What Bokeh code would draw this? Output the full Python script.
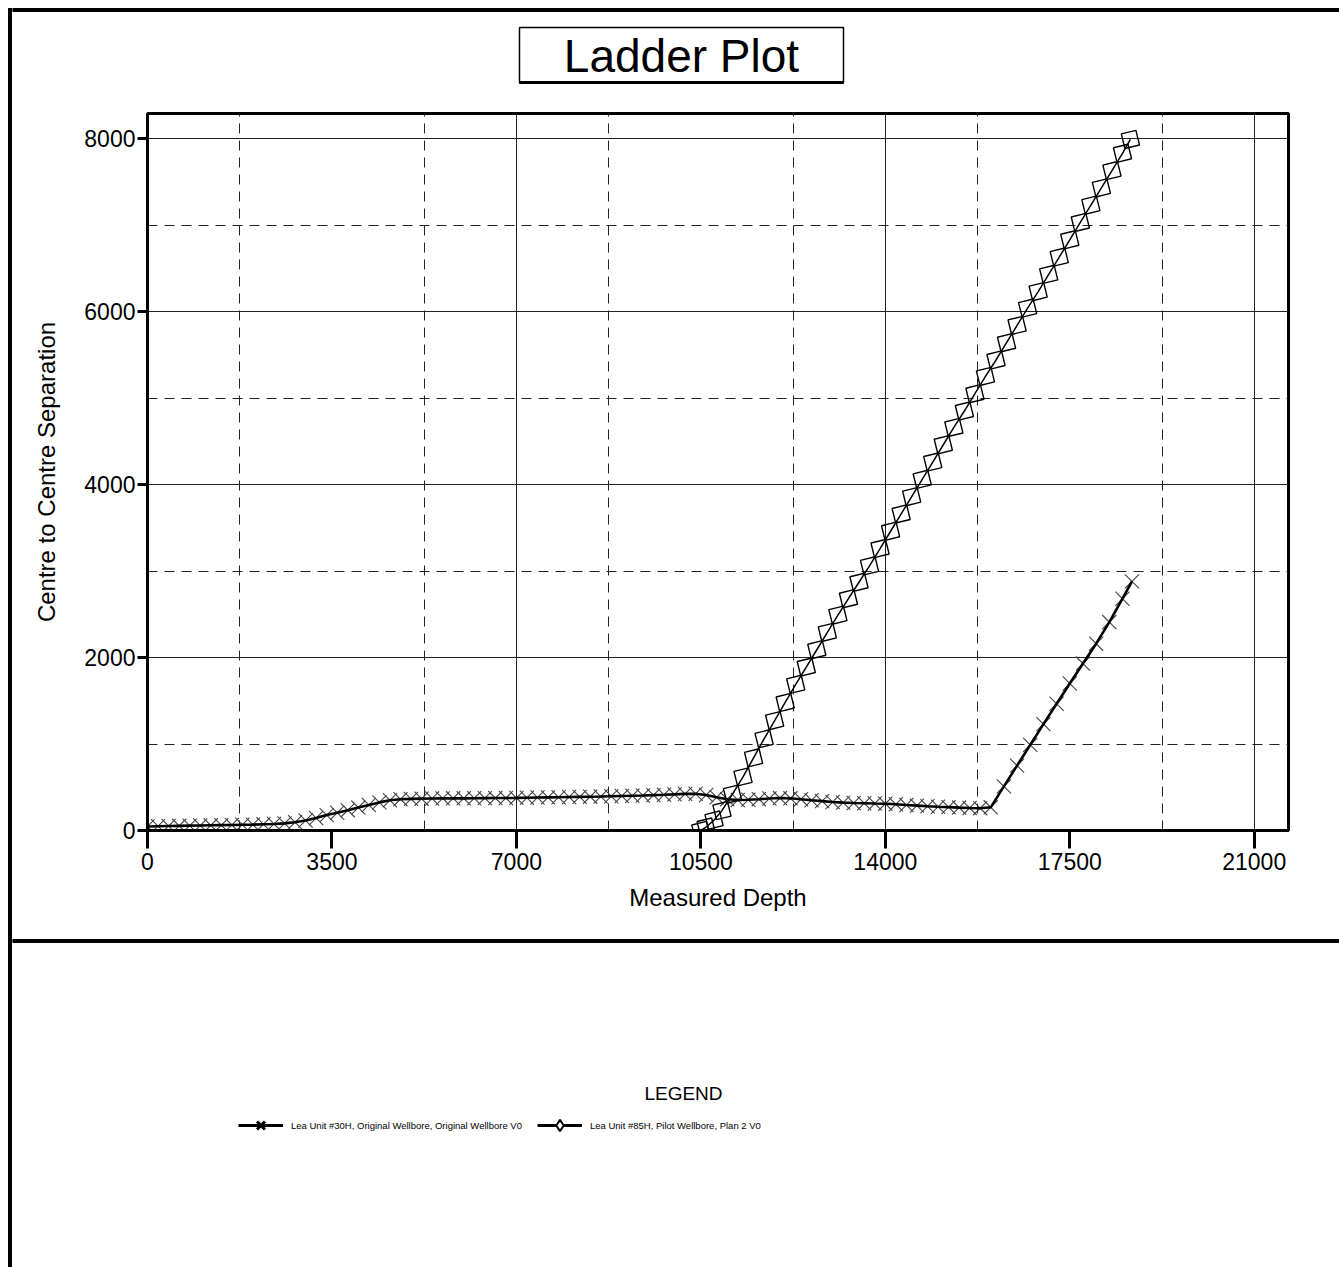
from bokeh.plotting import figure
from bokeh.models import FixedTicker, Grid, Legend, LegendItem, Range1d
from bokeh.layouts import row, column
from bokeh.core.properties import value
from bokeh.embed import file_html
from bokeh.resources import INLINE

FONT = "Liberation Sans"

# ---------------- data ----------------
x_ticks = [0, 3500, 7000, 10500, 14000, 17500, 21000]
y_ticks = [0, 2000, 4000, 6000, 8000]
x_major_grid = [7000, 14000, 21000]
x_minor_grid = [1750, 5250, 8750, 12250, 15750, 19250]
y_major_grid = [2000, 4000, 6000, 8000]
y_minor_grid = [1000, 3000, 5000, 7000]

md_30h = [0, 200, 400, 600, 800, 1000, 1200, 1400, 1600, 1800, 2000, 2200, 2400, 2600,
          2800, 3000, 3200, 3400, 3600, 3800, 4000, 4200, 4400, 4600, 4800, 5000, 5200,
          5400, 5600, 5800, 6000, 6200, 6400, 6600, 6800, 7000, 7200, 7400, 7600, 7800,
          8000, 8200, 8400, 8600, 8800, 9000, 9200, 9400, 9600, 9800, 10000, 10200, 10400,
          10600, 10800, 11000, 11200, 11400, 11600, 11800, 12000, 12200, 12400, 12600,
          12800, 13000, 13200, 13400, 13600, 13800, 14000, 14200, 14400, 14600, 14800,
          15000, 15200, 15400, 15600, 15800, 16000, 16250, 16500, 16750, 17000, 17250,
          17500, 17750, 18000, 18250, 18500, 18680]
sep_30h = [46, 50, 52, 54, 56, 58, 60, 62, 64, 66, 68, 72, 76, 82,
           95, 115, 145, 178, 205, 235, 265, 295, 325, 350, 362, 366, 368,
           370, 371, 372, 372, 373, 374, 375, 376, 377, 379, 381, 383, 385,
           387, 389, 391, 393, 396, 399, 402, 405, 409, 413, 418, 423, 425,
           410, 385, 362, 352, 355, 362, 370, 375, 372, 362, 350,
           340, 330, 322, 318, 315, 312, 310, 303, 295, 288, 281,
           275, 270, 265, 261, 258, 268, 510, 750, 990, 1230, 1465,
           1700, 1930, 2160, 2410, 2680, 2880]

md_85h = [10500, 10600, 10750, 10900, 11100, 11300, 11500, 11700, 11900, 12100, 12300,
          12500, 12700, 12900, 13100, 13300, 13500, 13700, 13900, 14100, 14300, 14500,
          14700, 14900, 15100, 15300, 15500, 15700, 15900, 16100, 16300, 16500, 16700,
          16900, 17100, 17300, 17500, 17700, 17900, 18100, 18300, 18500, 18650]
sep_85h = [0, 40, 120, 230, 420, 620, 840, 1060, 1270, 1480, 1690,
           1890, 2090, 2290, 2490, 2680, 2870, 3060, 3260, 3460, 3660, 3860,
           4060, 4260, 4460, 4660, 4850, 5050, 5250, 5440, 5640, 5840, 6040,
           6230, 6430, 6630, 6830, 7030, 7230, 7430, 7630, 7830, 7990]

title_text = "Ladder Plot"
legend_title = "LEGEND"
label_30h = "Lea Unit #30H, Original Wellbore, Original Wellbore V0"
label_85h = "Lea Unit #85H, Pilot Wellbore, Plan 2 V0"

PAGE_W, PAGE_H = 1339, 1267
BAR_W = 12
HEAD_H = 103
CHART_H = 827
FOOT_H = PAGE_H - HEAD_H - CHART_H


def no_align(f):
    if "frame_align" in f.properties():
        f.frame_align = False


def blank(w, h, x0, x1, y0, y1):
    f = figure(width=w, height=h, output_backend="svg", toolbar_location=None,
               x_range=Range1d(x0, x1), y_range=Range1d(y1, y0),
               x_axis_location=None, y_axis_location=None, min_border=0)
    f.outline_line_color = None
    f.background_fill_color = "white"
    f.border_fill_color = "white"
    f.grid.visible = False
    no_align(f)
    return f


# ---------------- left page border ----------------
leftbar = blank(BAR_W, PAGE_H, 0, BAR_W, 0, PAGE_H)
leftbar.quad(left=8, right=11, top=8, bottom=PAGE_H, color="black")
leftbar.quad(left=8, right=BAR_W, top=8, bottom=11, color="black")
leftbar.quad(left=8, right=BAR_W, top=939, bottom=942, color="black")

# ---------------- header (title) ----------------
header = blank(PAGE_W - BAR_W, HEAD_H, BAR_W, PAGE_W, 0, HEAD_H)
header.quad(left=BAR_W, right=PAGE_W, top=8, bottom=11, color="black")
header.quad(left=519, right=843, top=27, bottom=82, fill_color="white",
            line_color="black", line_width=1.5)
header.quad(left=519, right=843, top=81, bottom=83, color="black")
header.text(x=[681], y=[55], text=[title_text], text_align="center",
            text_baseline="middle", text_font=value(FONT), text_font_size="46px",
            text_color="black")

# ---------------- chart ----------------
p = figure(width=PAGE_W - BAR_W, height=CHART_H, output_backend="svg",
           toolbar_location=None,
           x_range=Range1d(0, 21650), y_range=Range1d(0, 8290),
           min_border_left=135, min_border_right=51, min_border_top=10,
           min_border_bottom=100)
no_align(p)
p.background_fill_color = "white"
p.border_fill_color = "white"
p.outline_line_color = "black"
p.outline_line_width = 3

for ax, ticks in ((p.xaxis, x_ticks), (p.yaxis, y_ticks)):
    ax.ticker = FixedTicker(ticks=ticks, minor_ticks=[])
    ax.axis_line_width = 3
    ax.axis_line_color = "black"
    ax.major_tick_line_width = 3
    ax.major_tick_line_color = "black"
    ax.major_tick_in = 0
    ax.minor_tick_in = 0
    ax.minor_tick_out = 0
    ax.major_label_text_font = FONT
    ax.major_label_text_font_size = "23px"
    ax.major_label_text_color = "black"
    ax.axis_label_text_font = FONT
    ax.axis_label_text_font_size = "24px"
    ax.axis_label_text_font_style = "normal"
    ax.axis_label_text_color = "black"

p.xaxis.axis_label = "Measured Depth"
p.xaxis.major_tick_out = 18
p.xaxis.major_label_standoff = 4
p.xaxis.axis_label_standoff = 11
p.yaxis.axis_label = "Centre to Centre Separation"
p.yaxis.major_tick_out = 10
p.yaxis.major_label_standoff = 2
p.yaxis.axis_label_standoff = 21

p.xgrid.ticker = FixedTicker(ticks=x_major_grid)
p.ygrid.ticker = FixedTicker(ticks=y_major_grid)
for g in (p.xgrid, p.ygrid):
    g.grid_line_color = "#222222"
    g.grid_line_width = 1
p.add_layout(Grid(dimension=0, ticker=FixedTicker(ticks=x_minor_grid),
                  grid_line_color="#222222", grid_line_width=1, grid_line_dash="10 7"))
p.add_layout(Grid(dimension=1, ticker=FixedTicker(ticks=y_minor_grid),
                  grid_line_color="#222222", grid_line_width=1, grid_line_dash="10 7"))

X_STYLE = dict(marker="x", line_color="#444444", line_width=1.1)
D_STYLE = dict(marker="square", angle=0.24, line_color="black", line_width=1.4,
               fill_color=None)

p.scatter(md_30h, sep_30h, size=20, **X_STYLE)
p.line(md_30h, sep_30h, line_color="black", line_width=2.6)
p.line(md_85h, sep_85h, line_color="black", line_width=1.5)
p.scatter(md_85h, sep_85h, size=15, **D_STYLE)

# ---------------- footer (legend) ----------------
footer = blank(PAGE_W - BAR_W, FOOT_H, BAR_W, PAGE_W, HEAD_H + CHART_H, PAGE_H)
footer.quad(left=BAR_W, right=PAGE_W, top=939, bottom=942, color="black")
footer.text(x=[683], y=[1093], text=[legend_title], text_align="center",
            text_baseline="middle", text_font=value(FONT), text_font_size="19px",
            text_color="black")

# legend sample glyphs (kept outside the visible range; only their legend swatches show)
k1 = footer.line([-50, -40], [-50, -50], line_color="black", line_width=3)
m1 = footer.scatter([-50], [-50], marker="x", line_color="black", line_width=3)
k2 = footer.line([-50, -40], [-50, -50], line_color="black", line_width=3)
m2 = footer.scatter([-50], [-50], marker="diamond", line_color="black",
                    line_width=2, fill_color="white")

legend = Legend(items=[LegendItem(label=label_30h, renderers=[k1, m1]),
                       LegendItem(label=label_85h, renderers=[k2, m2])],
                orientation="horizontal", location=(226, 1267 - 1139),
                border_line_color=None, background_fill_alpha=0, padding=0, margin=0,
                spacing=15, glyph_width=45, glyph_height=28, label_standoff=8,
                label_text_font=FONT, label_text_font_size="9.5px", label_height=28,
                label_text_color="black")
footer.add_layout(legend)

layout = row(leftbar, column(header, p, footer))

open("out.html", "w").write(file_html(layout, INLINE))
